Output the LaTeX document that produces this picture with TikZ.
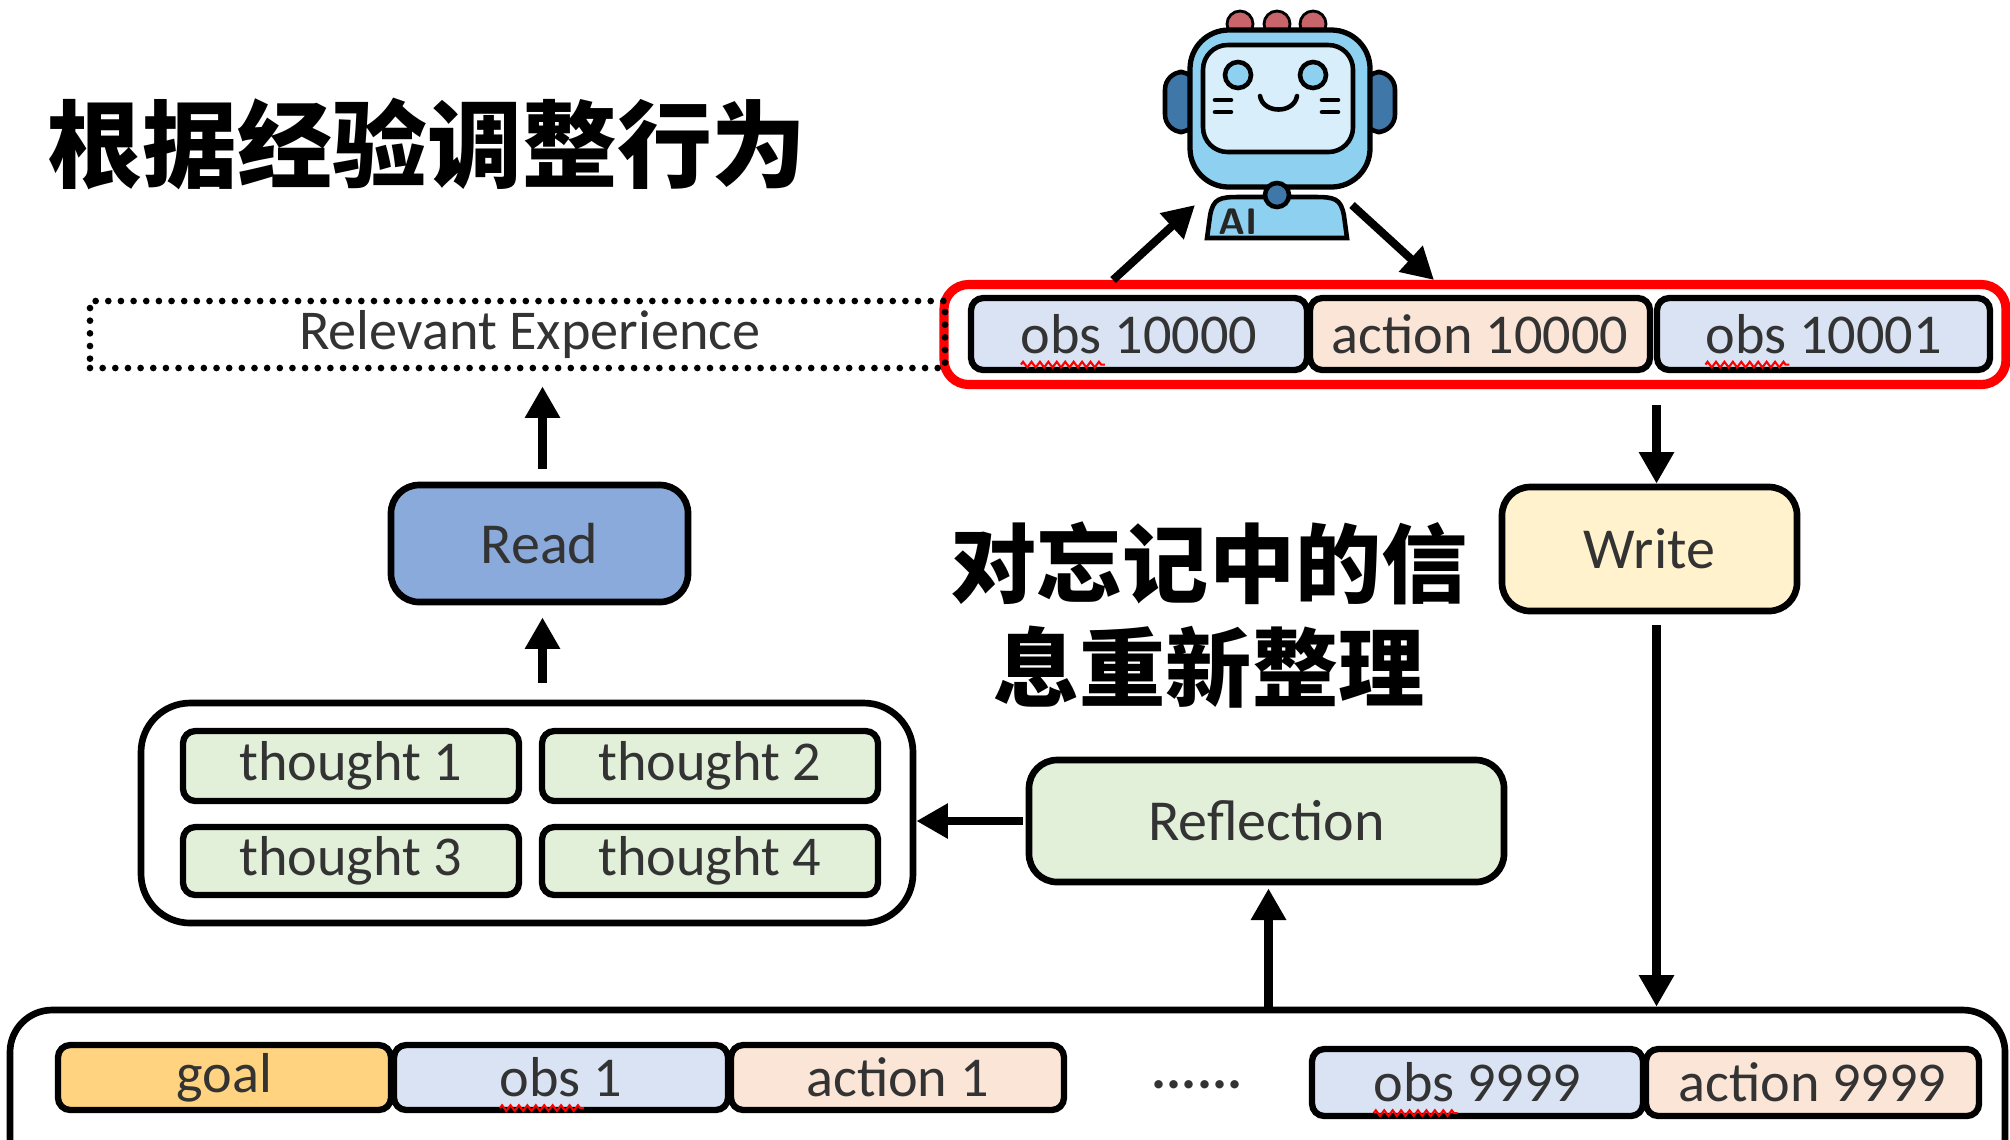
\documentclass[tikz,border=0pt]{standalone}
\usepackage{fontspec}
\usetikzlibrary{arrows.meta,decorations.pathmorphing}
\newfontfamily\lab{Carlito}
\newfontfamily\cjk{Noto Sans CJK SC}
\definecolor{obsblue}{HTML}{DAE3F3}
\definecolor{actpeach}{HTML}{FBE5D6}
\definecolor{goalorange}{HTML}{FFD37F}
\definecolor{thoughtgreen}{HTML}{E2EFD9}
\definecolor{writeyellow}{HTML}{FFF2CC}
\definecolor{readblue}{HTML}{8AAADC}
\definecolor{labelgray}{HTML}{333333}
\definecolor{robotsky}{HTML}{8ED0F0}
\definecolor{robotscreen}{HTML}{D8EEFA}
\definecolor{robotdark}{HTML}{3F78A8}
\definecolor{robotred}{HTML}{C9646B}
\definecolor{hlred}{HTML}{FF0000}
\tikzset{
  cell/.style={draw=black, line width=1.8pt, rounded corners=3.5pt, inner sep=0pt,
    text=labelgray, font=\lab\fontsize{16}{19}\selectfont},
  panel/.style={draw=black, line width=1.9pt, rounded corners=8pt, inner sep=0pt,
    text=labelgray, font=\lab\fontsize{16.5}{20}\selectfont},
  flow/.style={line width=2.3pt, -{Triangle[length=9pt,width=9.5pt]}},
  squiggle/.style={draw=red, line width=0.6pt, decorate,
    decoration={zigzag, amplitude=0.8pt, segment length=2.4pt}},
  robotline/.style={draw=black, line width=1.3pt},
}
\newcommand\spellmark[1]{%
  \path[squiggle] ([yshift=-3.2pt]#1.text) -- ([xshift=0.84cm,yshift=-3.2pt]#1.text);}
\begin{document}
\begin{tikzpicture}
\useasboundingbox (0,0) rectangle (20.10,-11.39);
\fill[white] (0,0) rectangle (20.10,-11.39);

% heading
\node[anchor=west, inner sep=0pt, font=\cjk\bfseries\fontsize{27}{32}\selectfont]
  (title) at (0.47,-1.44) {根据经验调整行为};

% recent steps, highlighted in red
\node[draw=hlred, line width=2.6pt, rounded corners=7pt, minimum width=10.62cm,
  minimum height=1.0cm, inner sep=0pt] (recent) at (14.75,-3.345) {};
\node[cell, fill=obsblue, minimum width=3.36cm, minimum height=0.72cm] (obsA) at (11.39,-3.34) {obs 10000};
\node[cell, fill=actpeach, minimum width=3.40cm, minimum height=0.72cm] (actA) at (14.80,-3.34) {action 10000};
\node[cell, fill=obsblue, minimum width=3.33cm, minimum height=0.72cm] (obsB) at (18.235,-3.34) {obs 10001};
\spellmark{obsA}
\spellmark{obsB}

% retrieved experience
\node[draw=black, line width=1.9pt, dash pattern=on 0pt off 3.6pt, line cap=round,
  minimum width=8.55cm, minimum height=0.67cm, inner sep=0pt, text=labelgray,
  font=\lab\fontsize{16}{19}\selectfont] (relexp) at (5.175,-3.345) {\hspace*{0.25cm}Relevant Experience};

% read / write
\node[panel, fill=readblue, minimum width=2.97cm, minimum height=1.17cm] (read) at (5.395,-5.435) {Read};
\node[panel, fill=writeyellow, minimum width=2.95cm, minimum height=1.24cm] (write) at (16.495,-5.49) {Write};

% middle caption
\node[align=center, inner sep=0pt, font=\cjk\bfseries\fontsize{24.5}{29.5}\selectfont]
  (caption) at (12.09,-6.15) {对忘记中的信\\息重新整理};

% thoughts
\node[draw=black, line width=1.9pt, rounded corners=14pt, minimum width=7.72cm,
  minimum height=2.20cm, inner sep=0pt] (thoughts) at (5.27,-8.13) {};
\node[cell, fill=thoughtgreen, minimum width=3.36cm, minimum height=0.70cm] (t1) at (3.51,-7.66) {thought 1};
\node[cell, fill=thoughtgreen, minimum width=3.36cm, minimum height=0.70cm] (t2) at (7.10,-7.66) {thought 2};
\node[cell, fill=thoughtgreen, minimum width=3.36cm, minimum height=0.68cm] (t3) at (3.51,-8.61) {thought 3};
\node[cell, fill=thoughtgreen, minimum width=3.36cm, minimum height=0.68cm] (t4) at (7.10,-8.61) {thought 4};

% reflection
\node[panel, fill=thoughtgreen, minimum width=4.75cm, minimum height=1.22cm] (reflect) at (12.665,-8.21) {Reflection};

% full memory stream
\node[draw=black, line width=1.9pt, rounded corners=12pt, minimum width=19.95cm,
  minimum height=1.7cm, inner sep=0pt] (stream) at (10.075,-10.95) {};
\node[cell, fill=goalorange, minimum width=3.33cm, minimum height=0.65cm] (goal) at (2.245,-10.775) {goal};
\node[cell, fill=obsblue, minimum width=3.34cm, minimum height=0.65cm] (obs1) at (5.61,-10.775) {obs 1};
\node[cell, fill=actpeach, minimum width=3.33cm, minimum height=0.65cm] (act1) at (8.975,-10.775) {action 1};
\node[anchor=base, inner sep=0pt, text=labelgray, font=\lab\bfseries\fontsize{16}{19}\selectfont] (gap) at (11.97,-10.88) {......};
\node[cell, fill=obsblue, minimum width=3.31cm, minimum height=0.67cm] (obsN) at (14.775,-10.825) {obs 9999};
\node[cell, fill=actpeach, minimum width=3.33cm, minimum height=0.67cm] (actN) at (18.125,-10.825) {action 9999};
\spellmark{obs1}
\spellmark{obsN}

% robot
\foreach \bx in {12.40,12.77,13.13}
  \filldraw[fill=robotred, draw=black, line width=0.8pt] (\bx,-0.24) circle (0.13);
\filldraw[fill=robotdark, robotline, rounded corners=5pt] (11.65,-0.72) rectangle (11.97,-1.32);
\filldraw[fill=robotdark, robotline, rounded corners=5pt] (13.63,-0.72) rectangle (13.95,-1.32);
\filldraw[fill=robotsky, draw=black, line width=1.5pt, rounded corners=11pt] (11.90,-0.30) rectangle (13.70,-1.87);
\filldraw[fill=robotscreen, robotline, rounded corners=7pt] (12.03,-0.45) rectangle (13.53,-1.52);
\filldraw[fill=robotsky, robotline] (12.38,-0.75) circle (0.13);
\filldraw[fill=robotsky, robotline] (13.13,-0.75) circle (0.13);
\draw[robotline, line cap=round] (12.60,-0.96) .. controls (12.63,-1.14) and (12.94,-1.14) .. (12.97,-0.96);
\draw[robotline, line cap=round] (12.15,-1.00) -- (12.31,-1.00) (12.15,-1.12) -- (12.31,-1.12)
  (13.22,-1.00) -- (13.38,-1.00) (13.22,-1.12) -- (13.38,-1.12);
\filldraw[fill=robotsky, robotline] (12.07,-2.38) -- (12.10,-2.16)
  .. controls (12.13,-1.98) and (12.20,-1.97) .. (12.40,-1.97) -- (13.14,-1.97)
  .. controls (13.34,-1.97) and (13.41,-1.98) .. (13.44,-2.16) -- (13.47,-2.38) -- cycle;
\filldraw[fill=robotdark, robotline] (12.77,-1.95) circle (0.12);
\node[inner sep=0pt, font=\sffamily\bfseries\fontsize{10.5}{12}\selectfont, text=black!85] (ailabel) at (12.38,-2.22) {AI};
\coordinate (robotIn) at (11.95,-2.05);
\coordinate (robotOut) at (13.52,-2.05);
\coordinate (toRobot) at (11.13,-2.80);
\coordinate (fromRobot) at (14.34,-2.80);

% connectors
\draw[flow] (toRobot) -- (robotIn);
\draw[flow] (robotOut) -- (fromRobot);
\draw[flow, shorten <=0.16cm] ([xshift=0.07cm]write.north |- recent.south) -- ([xshift=0.07cm]write.north);
\draw[flow, shorten <=0.11cm] ([xshift=0.07cm]write.south) -- ([xshift=0.07cm]write.south |- stream.north);
\draw[flow, shorten <=0.13cm, shorten >=0.15cm] ([xshift=0.03cm]read.north) -- ([xshift=0.03cm]read.north |- relexp.south);
\draw[flow, shorten <=0.17cm, shorten >=0.12cm] ([xshift=0.03cm]read.south |- thoughts.north) -- ([xshift=0.03cm]read.south);
\draw[flow, shorten <=0.03cm] (reflect.west) -- (reflect.west -| thoughts.east);
\draw[flow, shorten >=0.03cm] ([xshift=0.02cm]reflect.south |- stream.north) -- ([xshift=0.02cm]reflect.south);
\end{tikzpicture}
\end{document}
